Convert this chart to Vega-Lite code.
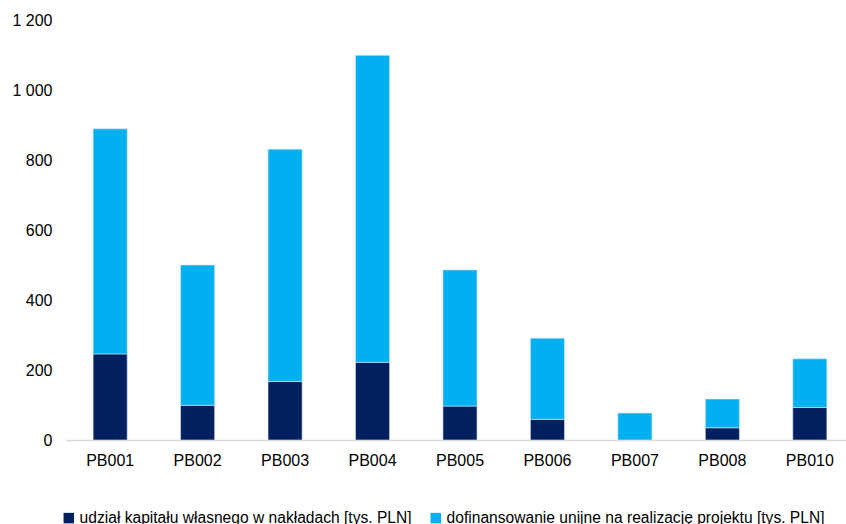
{
  "$schema": "https://vega.github.io/schema/vega-lite/v6.json",
  "width": 788,
  "height": 420,
  "autosize": {"type": "none"},
  "padding": {"left": 66, "top": 20, "right": -8, "bottom": 84},
  "background": "white",
  "config": {
    "view": {"stroke": null},
    "font": "Liberation Sans"
  },
  "data": {
    "values": [
      {"projekt": "PB001", "seria": "udział kapitału własnego w nakładach [tys. PLN]", "wartosc": 246},
      {"projekt": "PB001", "seria": "dofinansowanie unijne na realizację projektu [tys. PLN]", "wartosc": 643},
      {"projekt": "PB002", "seria": "udział kapitału własnego w nakładach [tys. PLN]", "wartosc": 99},
      {"projekt": "PB002", "seria": "dofinansowanie unijne na realizację projektu [tys. PLN]", "wartosc": 401},
      {"projekt": "PB003", "seria": "udział kapitału własnego w nakładach [tys. PLN]", "wartosc": 167},
      {"projekt": "PB003", "seria": "dofinansowanie unijne na realizację projektu [tys. PLN]", "wartosc": 664},
      {"projekt": "PB004", "seria": "udział kapitału własnego w nakładach [tys. PLN]", "wartosc": 222},
      {"projekt": "PB004", "seria": "dofinansowanie unijne na realizację projektu [tys. PLN]", "wartosc": 877},
      {"projekt": "PB005", "seria": "udział kapitału własnego w nakładach [tys. PLN]", "wartosc": 97},
      {"projekt": "PB005", "seria": "dofinansowanie unijne na realizację projektu [tys. PLN]", "wartosc": 389},
      {"projekt": "PB006", "seria": "udział kapitału własnego w nakładach [tys. PLN]", "wartosc": 59},
      {"projekt": "PB006", "seria": "dofinansowanie unijne na realizację projektu [tys. PLN]", "wartosc": 232},
      {"projekt": "PB007", "seria": "udział kapitału własnego w nakładach [tys. PLN]", "wartosc": 0},
      {"projekt": "PB007", "seria": "dofinansowanie unijne na realizację projektu [tys. PLN]", "wartosc": 77},
      {"projekt": "PB008", "seria": "udział kapitału własnego w nakładach [tys. PLN]", "wartosc": 35},
      {"projekt": "PB008", "seria": "dofinansowanie unijne na realizację projektu [tys. PLN]", "wartosc": 82},
      {"projekt": "PB010", "seria": "udział kapitału własnego w nakładach [tys. PLN]", "wartosc": 93},
      {"projekt": "PB010", "seria": "dofinansowanie unijne na realizację projektu [tys. PLN]", "wartosc": 139}
    ]
  },
  "mark": {"type": "bar", "stroke": "#dfe8f5", "strokeWidth": 0.6},
  "encoding": {
    "x": {
      "field": "projekt",
      "type": "nominal",
      "sort": null,
      "scale": {"paddingInner": 0.61, "paddingOuter": 0.31},
      "axis": {
        "title": null,
        "labelAngle": 0,
        "labelFontSize": 16,
        "labelColor": "#000000",
        "labelPadding": 12,
        "ticks": false,
        "domainColor": "#d9d9d9",
        "domainWidth": 1.5
      }
    },
    "y": {
      "field": "wartosc",
      "type": "quantitative",
      "stack": "zero",
      "scale": {"domain": [0, 1200], "nice": false},
      "axis": {
        "title": null,
        "values": [0, 200, 400, 600, 800, 1000, 1200],
        "labelExpr": "replace(format(datum.value, ','), ',', ' ')",
        "labelFontSize": 16,
        "labelColor": "#000000",
        "labelPadding": 14,
        "ticks": false,
        "domain": false,
        "grid": false
      }
    },
    "color": {
      "field": "seria",
      "type": "nominal",
      "sort": ["udział kapitału własnego w nakładach [tys. PLN]", "dofinansowanie unijne na realizację projektu [tys. PLN]"],
      "scale": {
        "domain": ["udział kapitału własnego w nakładach [tys. PLN]", "dofinansowanie unijne na realizację projektu [tys. PLN]"],
        "range": ["#002060", "#00B0F0"]
      },
      "legend": {
        "title": null,
        "orient": "none",
        "direction": "horizontal",
        "legendX": -5,
        "legendY": 490,
        "symbolType": "square",
        "symbolSize": 110,
        "symbolStrokeWidth": 0,
        "labelFontSize": 15.6,
        "labelColor": "#000000",
        "labelLimit": 500,
        "columnPadding": 16,
        "labelOffset": 3
      }
    }
  }
}
